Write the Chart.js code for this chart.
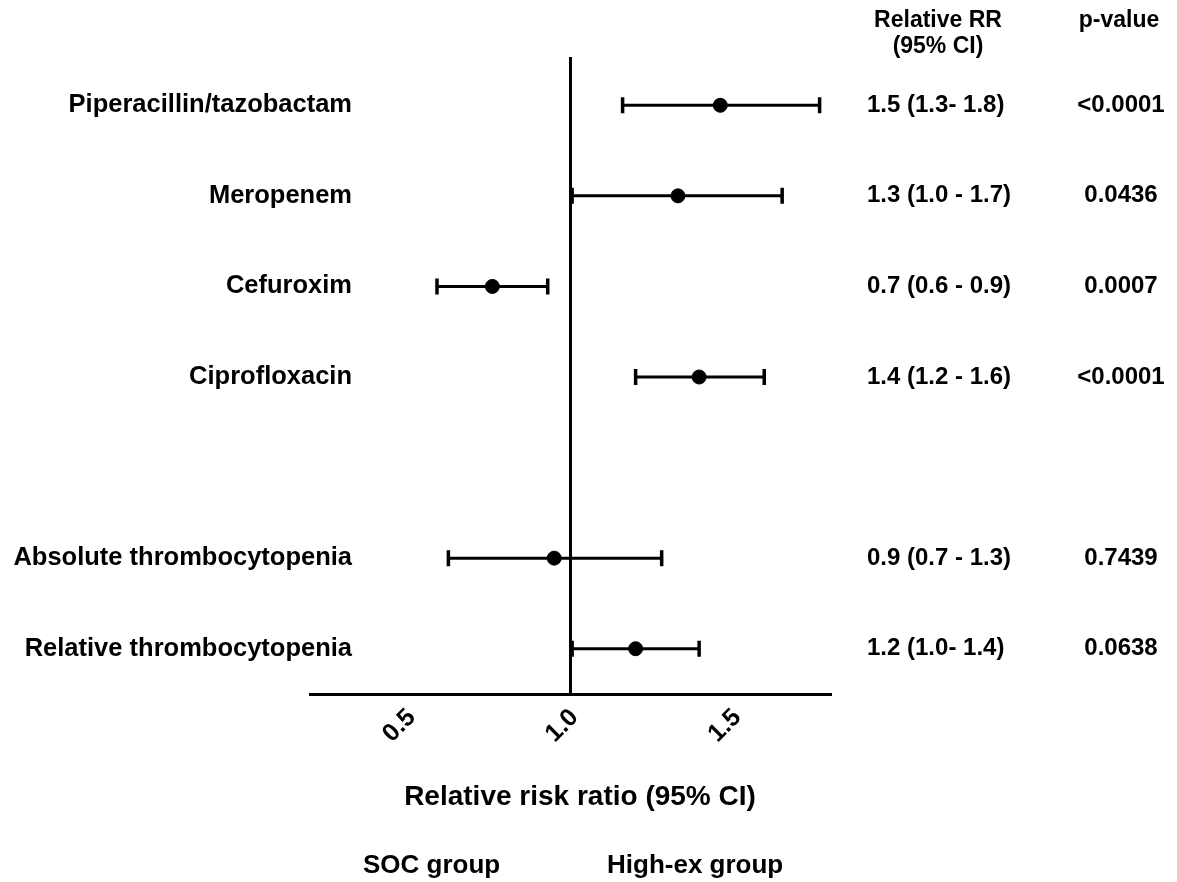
<!DOCTYPE html>
<html>
<head>
<meta charset="utf-8">
<script src="https://cdn.jsdelivr.net/npm/chart.js@4.4.1/dist/chart.umd.min.js"></script>
<style>
  html, body { margin: 0; padding: 0; background: #fff; }
  #wrap { width: 1177px; height: 882px; }
</style>
</head>
<body>
<div id="wrap"><canvas id="forest" width="1177" height="882"></canvas></div>
<script>
// rows of the forest plot (row 4 is left empty on purpose)
const studies = ['Piperacillin/tazobactam', 'Meropenem', 'Cefuroxim', 'Ciprofloxacin', 'Absolute thrombocytopenia', 'Relative thrombocytopenia'];
const rowPos = [0, 1, 2, 3, 5, 6];
const estimate = [1.46, 1.33, 0.76, 1.395, 0.95, 1.20];
const lower = [1.16, 1.005, 0.59, 1.20, 0.625, 1.005];
const upper = [1.765, 1.65, 0.93, 1.595, 1.28, 1.395];
const rrText = ['1.5 (1.3- 1.8)', '1.3 (1.0 - 1.7)', '0.7 (0.6 - 0.9)', '1.4 (1.2 - 1.6)', '0.9 (0.7 - 1.3)', '1.2 (1.0- 1.4)'];
const pText = ['<0.0001', '0.0436', '0.0007', '<0.0001', '0.7439', '0.0638'];
const xTicks = [0.5, 1.0, 1.5];
const refValue = 1.0;

const FONT = '"Liberation Sans", Arial, Helvetica, sans-serif';

const forestPlugin = {
  id: 'forest',
  beforeDatasetsDraw(chart) {
    const ctx = chart.ctx;
    const x = chart.scales.x, y = chart.scales.y;
    const area = chart.chartArea;
    ctx.save();
    ctx.strokeStyle = '#000';
    ctx.lineWidth = 3;
    // line of no effect
    const rx = x.getPixelForValue(refValue);
    ctx.beginPath();
    ctx.moveTo(rx, area.top - 3);
    ctx.lineTo(rx, area.bottom);
    ctx.stroke();
    // confidence intervals
    for (let i = 0; i < studies.length; i++) {
      const py = y.getPixelForValue(rowPos[i]);
      const x1 = x.getPixelForValue(lower[i]);
      const x2 = x.getPixelForValue(upper[i]);
      ctx.lineWidth = 3;
      ctx.beginPath();
      ctx.moveTo(x1, py);
      ctx.lineTo(x2, py);
      ctx.stroke();
      ctx.lineWidth = 3.5;
      ctx.beginPath();
      ctx.moveTo(x1, py - 8);
      ctx.lineTo(x1, py + 8);
      ctx.moveTo(x2, py - 8);
      ctx.lineTo(x2, py + 8);
      ctx.stroke();
    }
    ctx.restore();
  },
  afterDraw(chart) {
    const ctx = chart.ctx;
    const y = chart.scales.y;
    ctx.save();
    ctx.fillStyle = '#000';
    ctx.textBaseline = 'middle';

    // study names
    ctx.font = 'bold 25.5px ' + FONT;
    ctx.textAlign = 'right';
    studies.forEach((s, i) => ctx.fillText(s, 352, y.getPixelForValue(rowPos[i])));

    // column headers
    ctx.font = 'bold 23px ' + FONT;
    ctx.textAlign = 'center';
    ctx.fillText('Relative RR', 938, 21);
    ctx.fillText('(95% CI)', 938, 47);
    ctx.fillText('p-value', 1119, 21);

    // RR and p-value columns
    ctx.font = 'bold 24px ' + FONT;
    rrText.forEach((t, i) => {
      ctx.textAlign = 'left';
      ctx.fillText(t, 867, y.getPixelForValue(rowPos[i]));
    });
    pText.forEach((t, i) => {
      ctx.textAlign = 'center';
      ctx.fillText(t, 1121, y.getPixelForValue(rowPos[i]));
    });

    // axis title and group captions
    ctx.font = 'bold 28px ' + FONT;
    ctx.textAlign = 'center';
    ctx.fillText('Relative risk ratio (95% CI)', 580, 797);
    ctx.font = 'bold 26px ' + FONT;
    ctx.textAlign = 'left';
    ctx.fillText('SOC group', 363, 866);
    ctx.fillText('High-ex group', 607, 866);
    ctx.restore();
  }
};

new Chart(document.getElementById('forest'), {
  type: 'scatter',
  data: {
    datasets: [{
      data: estimate.map((v, i) => ({ x: v, y: rowPos[i] })),
      backgroundColor: '#000',
      borderColor: '#000',
      pointRadius: 7,
      pointHoverRadius: 7
    }]
  },
  options: {
    responsive: false,
    animation: false,
    events: [],
    layout: { padding: { left: 310, right: 346, top: 60, bottom: 128 } },
    plugins: { legend: { display: false }, tooltip: { enabled: false } },
    scales: {
      x: {
        type: 'linear',
        min: 0.2,
        max: 1.8,
        afterBuildTicks: s => { s.ticks = xTicks.map(v => ({ value: v })); },
        afterFit: s => { s.height = 60; },
        grid: { display: false, drawTicks: false },
        border: { display: true, color: '#000', width: 3 },
        ticks: {
          color: '#000',
          font: { family: FONT, size: 25, weight: 'bold' },
          minRotation: 45,
          maxRotation: 45,
          padding: 9,
          labelOffset: 4,
          autoSkip: false,
          callback: v => v.toFixed(1)
        }
      },
      y: {
        type: 'linear',
        display: false,
        reverse: true,
        min: -0.5,
        max: 6.5
      }
    }
  },
  plugins: [forestPlugin]
});
</script>
</body>
</html>
